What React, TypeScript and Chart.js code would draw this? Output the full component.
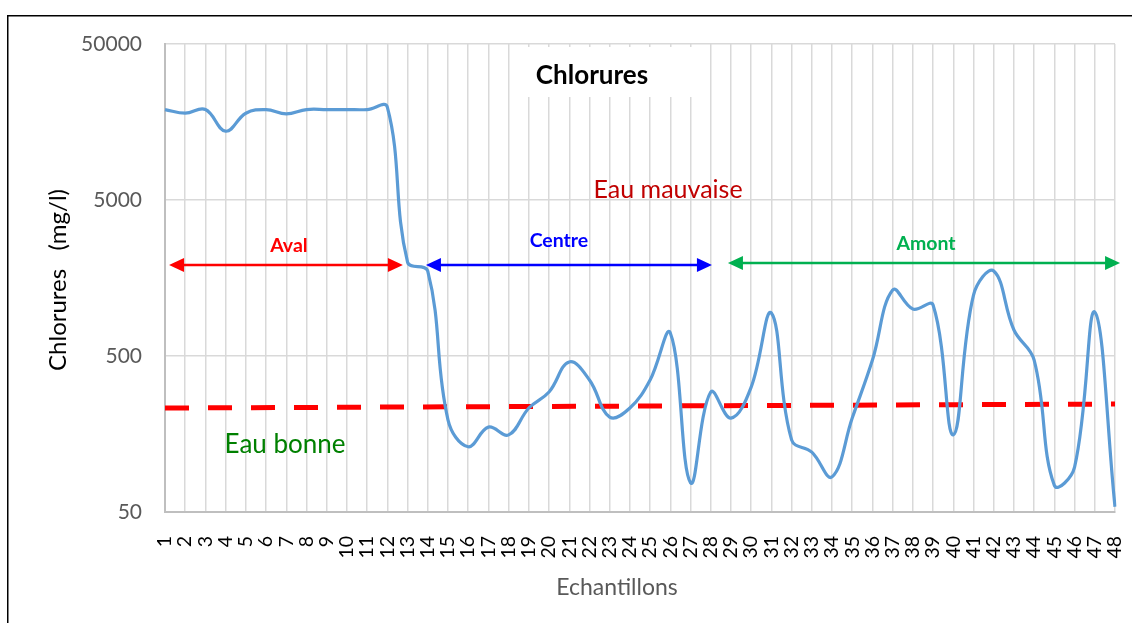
import React, { useEffect, useRef } from 'react';
import { Chart, registerables } from 'chart.js';

Chart.register(...registerables);

// Categories (échantillons)
const categories = [
  '1', '2', '3', '4', '5', '6', '7', '8', '9', '10', '11', '12',
  '13', '14', '15', '16', '17', '18', '19', '20', '21', '22', '23', '24',
  '25', '26', '27', '28', '29', '30', '31', '32', '33', '34', '35', '36',
  '37', '38', '39', '40', '41', '42', '43', '44', '45', '46', '47', '48',
];

// Chlorures (mg/l)
const chlorures = [
  19000, 18000, 19000, 13800, 18000, 19000, 17800, 19000, 19000, 19000, 19000, 19700,
  2000, 1750, 195, 131, 175, 156, 232, 294, 458, 351, 203, 232,
  351, 702, 77, 294, 200, 316, 943, 145, 121, 84, 200, 471,
  1325, 1000, 1061, 156, 1230, 1754, 734, 471, 74, 97, 957, 54,
];

// Seuil "eau bonne / eau mauvaise" (start and end values)
const seuilDebut = 232;
const seuilFin = 246;

const yTicks = [50, 500, 5000, 50000];

// Annotation arrows: from/to category index, value on the log axis
const fleches = [
  { from: 0.2, to: 11.77, value: 1916, color: '#FF0000' },
  { from: 12.91, to: 27.06, value: 1916, color: '#0000FF' },
  { from: 27.85, to: 47.25, value: 1973, color: '#00B050' },
];

const etiquettes = [
  { text: 'Aval', x: 6.13, value: 2535, color: '#FF0000', size: 19.5, bold: true },
  { text: 'Centre', x: 19.49, value: 2730, color: '#0000FF', size: 19.5, bold: true },
  { text: 'Amont', x: 37.65, value: 2630, color: '#00B050', size: 19.5, bold: true },
  { text: 'Eau mauvaise', x: 24.89, value: 5800, color: '#C00000', size: 25, bold: false },
  { text: 'Eau bonne', x: 5.94, value: 136, color: '#008000', size: 26, bold: false },
];

const FONT = 'Lato, "Open Sans", sans-serif';

const decorPlugin = {
  id: 'decor',
  beforeDatasetsDraw(chart: any) {
    const ctx = chart.ctx;
    ctx.save();
    // white box behind title
    ctx.fillStyle = '#FFFFFF';
    ctx.fillRect(527, 47, 166, 50);
    ctx.fillStyle = '#000000';
    ctx.font = `bold 26px ${FONT}`;
    ctx.textAlign = 'center';
    ctx.textBaseline = 'middle';
    ctx.fillText('Chlorures', 592, 76);
    ctx.restore();
  },
  afterDatasetsDraw(chart: any) {
    const ctx = chart.ctx;
    const xs = chart.scales.x;
    const ys = chart.scales.y;
    ctx.save();
    for (const f of fleches) {
      const x1 = xs.getPixelForValue(f.from);
      const x2 = xs.getPixelForValue(f.to);
      const y = ys.getPixelForValue(f.value);
      const L = 15;
      const H = 7;
      ctx.strokeStyle = f.color;
      ctx.fillStyle = f.color;
      ctx.lineWidth = 2.7;
      ctx.beginPath();
      ctx.moveTo(x1 + L - 1, y);
      ctx.lineTo(x2 - L + 1, y);
      ctx.stroke();
      ctx.beginPath();
      ctx.moveTo(x1, y);
      ctx.lineTo(x1 + L, y - H);
      ctx.lineTo(x1 + L, y + H);
      ctx.closePath();
      ctx.fill();
      ctx.beginPath();
      ctx.moveTo(x2, y);
      ctx.lineTo(x2 - L, y - H);
      ctx.lineTo(x2 - L, y + H);
      ctx.closePath();
      ctx.fill();
    }
    ctx.textAlign = 'center';
    ctx.textBaseline = 'middle';
    for (const e of etiquettes) {
      ctx.fillStyle = e.color;
      ctx.font = `${e.bold ? 'bold ' : ''}${e.size}px ${FONT}`;
      ctx.fillText(e.text, xs.getPixelForValue(e.x), ys.getPixelForValue(e.value));
    }
    ctx.restore();
  },
  afterDraw(chart: any) {
    const ctx = chart.ctx;
    ctx.save();
    // axis titles
    ctx.fillStyle = '#000000';
    ctx.font = `24px ${FONT}`;
    ctx.textAlign = 'center';
    ctx.textBaseline = 'middle';
    ctx.translate(58, 280);
    ctx.rotate(-Math.PI / 2);
    ctx.fillText('Chlorures   (mg/l)', 0, 0);
    ctx.restore();
    ctx.save();
    ctx.fillStyle = '#595959';
    ctx.font = `23px ${FONT}`;
    ctx.textAlign = 'center';
    ctx.textBaseline = 'middle';
    ctx.fillText('Echantillons', 617, 588);
    // outer frame
    ctx.strokeStyle = '#000000';
    ctx.lineWidth = 1.5;
    ctx.beginPath();
    ctx.moveTo(7.75, 623);
    ctx.lineTo(7.75, 15.75);
    ctx.lineTo(1132, 15.75);
    ctx.stroke();
    ctx.restore();
  },
};

export default function App() {
  const ref = useRef<HTMLCanvasElement>(null);
  useEffect(() => {
    if (!ref.current) return;
    const n = categories.length;
    const seuil = categories.map((_, i) => (i === 0 ? seuilDebut : i === n - 1 ? seuilFin : null));
    const chart = new Chart(ref.current, {
      type: 'line',
      data: {
        labels: categories,
        datasets: [
          {
            label: 'Seuil',
            data: seuil,
            borderColor: '#FF0000',
            borderWidth: 5,
            borderDash: [24, 19],
            borderCapStyle: 'butt',
            pointRadius: 0,
            spanGaps: true,
            tension: 0,
            order: 2,
          },
          {
            label: 'Chlorures',
            data: chlorures,
            borderColor: '#5B9BD5',
            borderWidth: 3.2,
            pointRadius: 0,
            tension: 0.4,
            order: 1,
          },
        ],
      },
      options: {
        responsive: false,
        animation: false,
        layout: { padding: { left: 0, top: 44, right: 17, bottom: 0 } },
        plugins: {
          legend: { display: false },
          tooltip: { enabled: false },
          title: { display: false },
        },
        scales: {
          x: {
            type: 'category',
            offset: false,
            grid: { color: '#D9D9D9', lineWidth: 1.5, drawTicks: false, offset: false },
            border: { color: '#BFBFBF', width: 2 },
            ticks: {
              autoSkip: false,
              maxRotation: 90,
              minRotation: 90,
              padding: 24,
              color: '#000000',
              font: { family: FONT, size: 19.5 },
            },
            afterFit: (s: any) => {
              s.height = 111;
              s.paddingLeft = 0;
              s.paddingRight = 0;
            },
          },
          y: {
            type: 'logarithmic',
            min: 50,
            max: 50000,
            grid: { color: '#D9D9D9', lineWidth: 1.5, drawTicks: false },
            border: { color: '#BFBFBF', width: 2 },
            ticks: {
              padding: 23,
              color: '#595959',
              font: { family: FONT, size: 21 },
              callback: (v: any) => String(v),
            },
            afterBuildTicks: (s: any) => {
              s.ticks = yTicks.map((v) => ({ value: v }));
            },
            afterFit: (s: any) => {
              s.width = 165;
              s.paddingTop = 0;
              s.paddingBottom = 0;
            },
          },
        },
      },
      plugins: [decorPlugin],
    } as any);
    return () => chart.destroy();
  }, []);
  return (
    <div style={{ position: 'absolute', left: 0, top: 0, width: 1132, height: 623, background: '#FFFFFF' }}>
      <canvas ref={ref} width={1132} height={623} style={{ display: 'block' }} />
    </div>
  );
}
